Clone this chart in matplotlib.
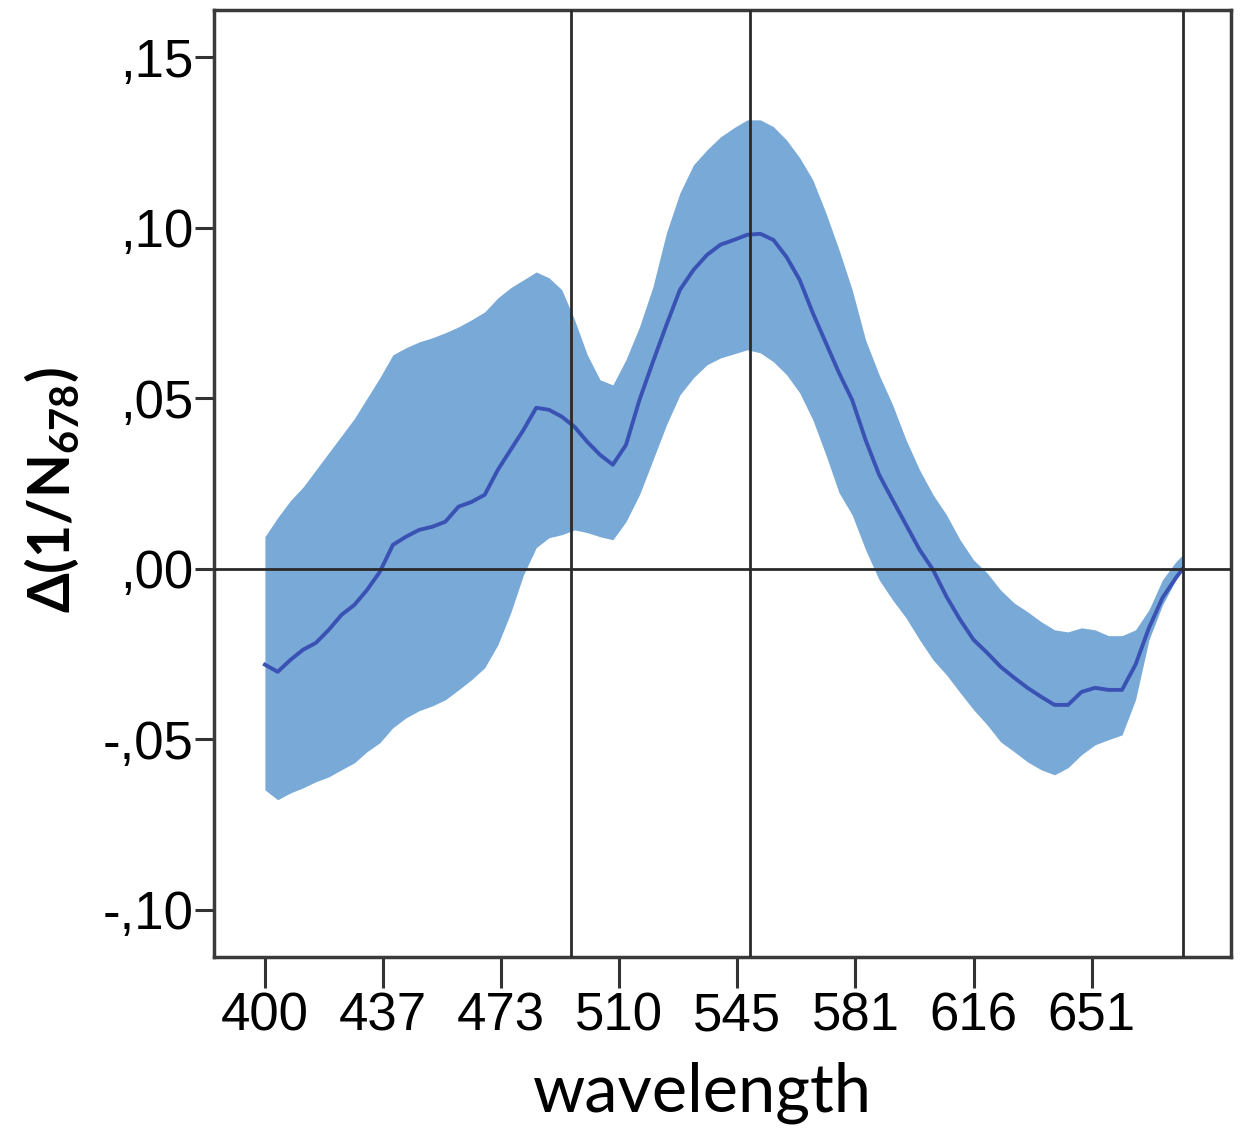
import numpy as np
import matplotlib
matplotlib.use("Agg")
import matplotlib.pyplot as plt

plt.rcParams["mathtext.default"] = "regular"

# ---- data ----
tick_wl = [400, 437, 473, 510, 545, 581, 616, 651]
ytick_vals = [-0.10, -0.05, 0.00, 0.05, 0.10, 0.15]
ytick_labels = ["-,10", "-,05", ",00", ",05", ",10", ",15"]
ref_wl = [495, 549, 678]

wavelength = [400, 404, 408, 412, 416, 420, 424, 428, 432, 436,
              440, 444, 448, 452, 456, 460, 464, 468, 472, 476,
              480, 484, 488, 492, 496, 500, 504, 508, 512, 516,
              520, 524, 528, 532, 536, 540, 544, 548, 552, 556,
              560, 564, 568, 572, 576, 580, 584, 588, 592, 596,
              600, 604, 608, 612, 616, 620, 624, 628, 632, 636,
              640, 644, 648, 652, 656, 660, 664, 668, 672, 676, 678]

upper = [0.0094, 0.0150, 0.0200, 0.0240, 0.0290, 0.0340, 0.0390, 0.0440, 0.0500, 0.0560,
         0.0627, 0.0648, 0.0665, 0.0677, 0.0692, 0.0709, 0.0730, 0.0753, 0.0794, 0.0824,
         0.0847, 0.0870, 0.0853, 0.0818, 0.0730, 0.0627, 0.0554, 0.0539, 0.0613, 0.0709,
         0.0827, 0.0985, 0.1102, 0.1184, 0.1228, 0.1266, 0.1293, 0.1316, 0.1316, 0.1296,
         0.1257, 0.1205, 0.1140, 0.1043, 0.0935, 0.0818, 0.0671, 0.0569, 0.0481, 0.0378,
         0.0290, 0.0217, 0.0158, 0.0085, 0.0026, -0.0012, -0.0062, -0.0100, -0.0126, -0.0155,
         -0.0179, -0.0185, -0.0173, -0.0179, -0.0196, -0.0196, -0.0179, -0.0120, -0.0032, 0.0021, 0.0041]

mean = [-0.0281, -0.0302, -0.0267, -0.0237, -0.0217, -0.0179, -0.0135, -0.0106, -0.0062, -0.0009,
        0.0070, 0.0094, 0.0114, 0.0123, 0.0138, 0.0182, 0.0196, 0.0217, 0.0290, 0.0349,
        0.0407, 0.0472, 0.0466, 0.0446, 0.0416, 0.0372, 0.0334, 0.0305, 0.0363, 0.0495,
        0.0607, 0.0715, 0.0818, 0.0876, 0.0920, 0.0950, 0.0964, 0.0979, 0.0982, 0.0964,
        0.0914, 0.0847, 0.0750, 0.0662, 0.0574, 0.0495, 0.0378, 0.0276, 0.0202, 0.0129,
        0.0056, -0.0003, -0.0082, -0.0149, -0.0208, -0.0246, -0.0287, -0.0319, -0.0349, -0.0375,
        -0.0399, -0.0399, -0.0361, -0.0349, -0.0355, -0.0355, -0.0281, -0.0173, -0.0085, -0.0026, 0.0000]

lower = [-0.0648, -0.0677, -0.0657, -0.0642, -0.0624, -0.0610, -0.0589, -0.0569, -0.0536, -0.0510,
         -0.0466, -0.0437, -0.0416, -0.0402, -0.0384, -0.0355, -0.0325, -0.0290, -0.0223, -0.0129,
         -0.0018, 0.0062, 0.0091, 0.0100, 0.0114, 0.0106, 0.0094, 0.0085, 0.0138, 0.0217,
         0.0319, 0.0422, 0.0510, 0.0560, 0.0598, 0.0618, 0.0630, 0.0642, 0.0633, 0.0607,
         0.0569, 0.0516, 0.0437, 0.0334, 0.0223, 0.0158, 0.0056, -0.0032, -0.0091, -0.0144,
         -0.0208, -0.0267, -0.0311, -0.0363, -0.0413, -0.0457, -0.0507, -0.0536, -0.0566, -0.0589,
         -0.0604, -0.0583, -0.0545, -0.0516, -0.0501, -0.0487, -0.0384, -0.0208, -0.0106, -0.0032, -0.0003]

# ---- categorical-like wavelength axis (ticks evenly spaced) ----
knots_wl = np.array([300.0] + tick_wl + [686.0, 800.0])
knots_pos = np.array([-100.0 / 37.0] + list(range(len(tick_wl))) + [8.0, 8.0 + 114.0 / 35.0])


def fwd(w):
    return np.interp(w, knots_wl, knots_pos)


def inv(p):
    return np.interp(p, knots_pos, knots_wl)


fig = plt.figure(figsize=(12.4, 11.31), dpi=100)
ax = fig.add_axes([214 / 1240, 1 - 957 / 1131, (1231 - 214) / 1240, (957 - 10) / 1131])
ax.set_xscale("function", functions=(fwd, inv))

band_color = "#78a9d7"
line_color = "#3a52b4"
ax.fill_between(wavelength, lower, upper, color=band_color, lw=0, zorder=1)
ax.plot(wavelength, mean, color=line_color, lw=2.8, zorder=3)

ax.axhline(0, color="#2a2a2a", lw=2, zorder=4)
for w in ref_wl:
    ax.axvline(w, color="#2a2a2a", lw=2, zorder=4)

ax.set_xlim(384.05, 692.3)
ax.set_ylim(-0.1138, 0.1638)

ax.set_xticks(tick_wl)
ax.set_xticklabels([str(t) for t in tick_wl], family="Liberation Sans", fontsize=38)
ax.set_yticks(ytick_vals)
ax.set_yticklabels(ytick_labels, family="Liberation Sans", fontsize=38)
ax.xaxis.set_minor_locator(matplotlib.ticker.NullLocator())

ax.tick_params(axis="x", direction="out", length=22, width=2.2, color="#333333", pad=3)
ax.tick_params(axis="y", direction="out", length=14, width=2.2, color="#333333", pad=1)

for s in ax.spines.values():
    s.set_linewidth(2.5)
    s.set_color("#3a3a3a")

fig.text(702 / 1240, 1 - 1112 / 1131, "wavelength", family=["Lato", "DejaVu Sans"],
         fontsize=48, ha="center", va="baseline")
fig.text(52 / 1240, 1 - 490 / 1131, "Δ(1/N$_{678}$)", family=["Lato", "DejaVu Sans"],
         fontweight="bold", fontsize=41, rotation=90, ha="center", va="center")

fig.savefig("out.png", dpi=100, facecolor="white")
